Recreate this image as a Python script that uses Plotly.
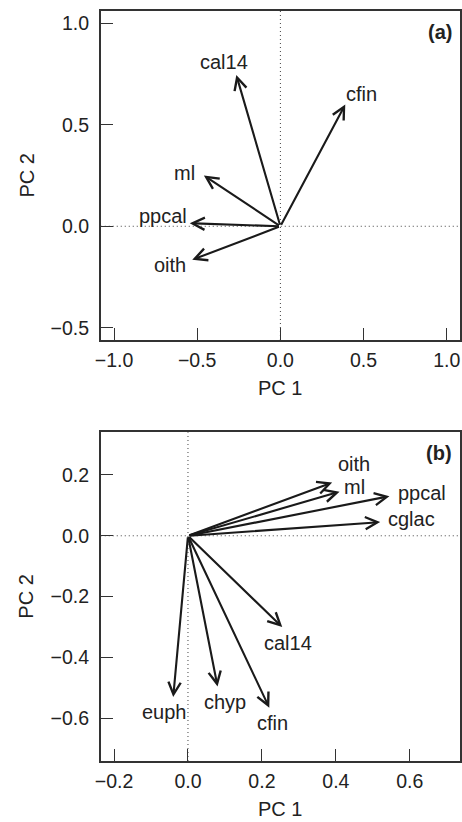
import plotly.graph_objects as go

# ---------------- data ----------------
a_vars = ["cal14", "cfin", "ml", "ppcal", "oith"]
a_pc1 = [-0.265, 0.39, -0.46, -0.545, -0.53]
a_pc2 = [0.745, 0.60, 0.25, 0.015, -0.165]

b_vars = ["oith", "ml", "ppcal", "cglac", "cal14", "cfin", "chyp", "euph"]
b_pc1 = [0.39, 0.41, 0.545, 0.52, 0.255, 0.22, 0.08, -0.04]
b_pc2 = [0.175, 0.145, 0.13, 0.045, -0.30, -0.565, -0.495, -0.53]

a_xticks = [-1.0, -0.5, 0.0, 0.5, 1.0]
a_yticks = [-0.5, 0.0, 0.5, 1.0]
b_xticks = [-0.2, 0.0, 0.2, 0.4, 0.6]
b_yticks = [-0.6, -0.4, -0.2, 0.0, 0.2]

# label pixel offsets from arrow tips (style)
a_label_shift = {"cal14": (-12, 13), "cfin": (16, 10), "ml": (-19, 3),
                 "ppcal": (-27, 7), "oith": (-22, -5)}
b_label_shift = {"oith": (22, 19), "ml": (15, 5), "ppcal": (33, 3), "cglac": (31, 3),
                 "cal14": (6, -16), "cfin": (3, -15), "chyp": (7, -16), "euph": (-9, -15)}

W, H = 462, 822
FONT = "Liberation Sans, Arial, Helvetica, sans-serif"
TXT = "#222222"
FRAME = "#333333"
ARROW = "#1a1a1a"

fig = go.Figure()

# invisible traces so the axes are drawn
fig.add_trace(go.Scatter(x=a_pc1, y=a_pc2, mode="markers", marker=dict(size=0, opacity=0),
                         hoverinfo="skip", showlegend=False, xaxis="x", yaxis="y"))
fig.add_trace(go.Scatter(x=b_pc1, y=b_pc2, mode="markers", marker=dict(size=0, opacity=0),
                         hoverinfo="skip", showlegend=False, xaxis="x2", yaxis="y2"))

annotations = []
shapes = []


def add_panel(vars_, pc1, pc2, shifts, xr, yr, tag):
    for v, x, y in zip(vars_, pc1, pc2):
        annotations.append(dict(
            x=x, y=y, ax=0, ay=0, xref=xr, yref=yr, axref=xr, ayref=yr,
            text="", showarrow=True, arrowhead=5, arrowsize=1.15, arrowwidth=2.1,
            arrowcolor=ARROW, standoff=0, startstandoff=0))
        dx, dy = shifts[v]
        annotations.append(dict(
            x=x, y=y, xref=xr, yref=yr, text=v, showarrow=False,
            xshift=dx, yshift=dy, xanchor="center", yanchor="middle",
            font=dict(family=FONT, size=20, color=TXT)))
    # dotted zero lines
    shapes.append(dict(type="line", xref=xr, yref=yr + " domain", x0=0, x1=0, y0=0, y1=1,
                       line=dict(color="#444444", width=1, dash="1px,3px"), layer="below"))
    shapes.append(dict(type="line", xref=xr + " domain", yref=yr, x0=0, x1=1, y0=0, y1=0,
                       line=dict(color="#444444", width=1, dash="1px,3px"), layer="below"))
    # panel tag
    annotations.append(dict(x=1, y=1, xref=xr + " domain", yref=yr + " domain",
                            text="<b>" + tag + "</b>", showarrow=False,
                            xanchor="right", yanchor="middle", xshift=-6, yshift=-21,
                            font=dict(family=FONT, size=20, color=TXT)))
    # axis titles
    annotations.append(dict(x=0.5, y=0, xref=xr + " domain", yref=yr + " domain",
                            text="PC 1", showarrow=False, xanchor="center", yanchor="middle",
                            yshift=-48, font=dict(family=FONT, size=20, color=TXT)))
    annotations.append(dict(x=0, y=0.5, xref="paper", yref=yr + " domain",
                            text="PC 2", showarrow=False, xanchor="center", yanchor="middle",
                            xshift=20, textangle=-90,
                            font=dict(family=FONT, size=20, color=TXT)))


add_panel(a_vars, a_pc1, a_pc2, a_label_shift, "x", "y", "(a)")
add_panel(b_vars, b_pc1, b_pc2, b_label_shift, "x2", "y2", "(b)")

axis_common = dict(showline=True, mirror=True, linecolor=FRAME, linewidth=1.6,
                   ticks="inside", ticklen=12, tickwidth=1.3, tickcolor=FRAME,
                   showgrid=False, zeroline=False, tickformat=".1f",
                   tickfont=dict(family=FONT, size=19.5, color=TXT),
                   fixedrange=True)

xdom = [96 / W, 460 / W]
fig.update_layout(
    width=W, height=H, autosize=False,
    margin=dict(l=0, r=0, t=0, b=0),
    paper_bgcolor="white", plot_bgcolor="white",
    showlegend=False,
    xaxis=dict(domain=xdom, range=[-1.08, 1.08], tickvals=a_xticks, anchor="y",
               ticklabelstandoff=2, **axis_common),
    yaxis=dict(domain=[1 - 340 / H, 1 - 11 / H], range=[-0.56, 1.06], tickvals=a_yticks,
               anchor="x", ticklabelstandoff=6, **axis_common),
    xaxis2=dict(domain=xdom, range=[-0.236, 0.736], tickvals=b_xticks, anchor="y2",
                ticklabelstandoff=2, **axis_common),
    yaxis2=dict(domain=[1 - 761 / H, 1 - 432.3 / H], range=[-0.74, 0.34], tickvals=b_yticks,
                anchor="x2", ticklabelstandoff=6, **axis_common),
    annotations=annotations,
    shapes=shapes,
)

fig.write_html("out.html", config={"displayModeBar": False},
               post_script="document.body.style.margin='0';document.body.style.overflow='hidden';")
